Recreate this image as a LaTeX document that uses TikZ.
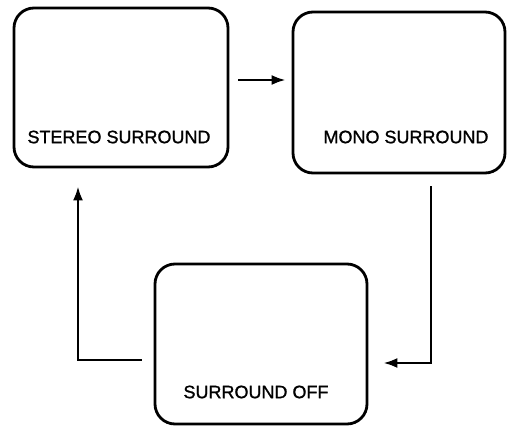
\documentclass[tikz,border=0pt]{standalone}
\usepackage{fontspec}
\setmainfont{Liberation Sans}
\newfontfamily\labelfont[FakeBold=1.2]{Liberation Sans}
\usetikzlibrary{arrows.meta,calc}
\begin{document}
\begin{tikzpicture}[x=1pt,y=-1pt,
  modebox/.style={draw, line width=2.8pt, rounded corners=20pt, inner sep=0pt},
  modetext/.style={font=\labelfont\fontsize{18}{20}\selectfont, inner sep=0pt, anchor=center},
  arr/.style={line width=2.4pt, -{Latex[length=14pt,width=10pt]}}]
\useasboundingbox (0,0) rectangle (509,426);
\node[modebox, minimum width=214pt, minimum height=159pt] (b1) at (121,87.5) {};
\node[modebox, minimum width=212pt, minimum height=161pt] (b2) at (399,92.5) {};
\node[modebox, minimum width=212pt, minimum height=160pt] (b3) at (261,344) {};
\node[modetext] (t1) at (119,137) {STEREO SURROUND};
\node[modetext] (t2) at (406,137) {MONO SURROUND};
\node[modetext] (t3) at (256,392) {SURROUND OFF};
\draw[arr, shorten <=9pt, shorten >=6pt] (b1.east |- 0,80) -- (b2.west |- 0,80);
\draw[arr, shorten <=12pt, shorten >=15pt] (b2.south -| 431,0) -- (431,363) -- (b3.east |- 0,363);
\draw[arr, shorten <=12pt, shorten >=18pt] (b3.west |- 0,360) -- (78,360) -- (78,0 |- b1.south);
\end{tikzpicture}
\end{document}
